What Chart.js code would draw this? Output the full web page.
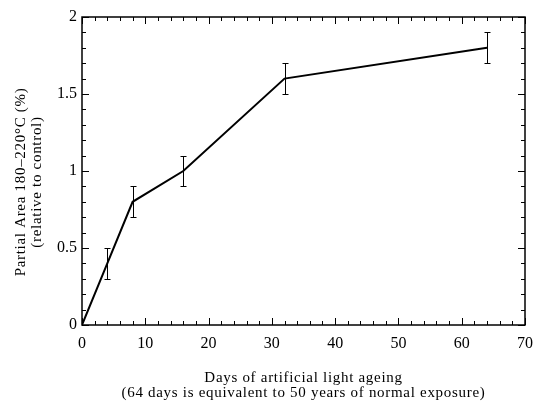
<!DOCTYPE html>
<html>
<head>
<meta charset="utf-8">
<script src="https://cdn.jsdelivr.net/npm/chart.js@4"></script>
<style>
  html, body { margin: 0; padding: 0; background: #fff; }
  #contenedor { width: 534px; height: 404px; }
</style>
</head>
<body>
<div id="contenedor"><canvas id="grafica" width="534" height="404"></canvas></div>
<script>
// === Datos de la gráfica ===
const dias = [0, 4, 8, 16, 32, 64];
const areaParcial = [0, 0.4, 0.8, 1.0, 1.6, 1.8];
const errorArea = [0, 0.1, 0.1, 0.1, 0.1, 0.1];

const tituloX = ['Days of artificial light ageing', '(64 days is equivalent to 50 years of normal exposure)'];
const tituloY = ['Partial Area 180\u2013220\u00B0C (%)', '(relative to control)'];

// === Constantes de estilo ===
const FUENTE = '"Liberation Serif", "DejaVu Serif", serif';
const LARGO_MAYOR = 7;
const LARGO_MENOR = 4;

// barras de error, marco con marcas hacia dentro y títulos
const pluginMarco = {
  id: 'marco',
  afterDatasetsDraw(chart) {
    const ctx = chart.ctx;
    const { left, right, top, bottom } = chart.chartArea;
    const x = chart.scales.x;
    const y = chart.scales.y;

    ctx.save();
    ctx.strokeStyle = '#000';
    ctx.lineWidth = 1;

    // barras de error
    dias.forEach((d, i) => {
      if (!errorArea[i]) return;
      const px = Math.round(x.getPixelForValue(d)) + 0.5;
      const yAlto = Math.round(y.getPixelForValue(areaParcial[i] + errorArea[i])) + 0.5;
      const yBajo = Math.round(y.getPixelForValue(areaParcial[i] - errorArea[i])) + 0.5;
      ctx.beginPath();
      ctx.moveTo(px, yAlto); ctx.lineTo(px, yBajo);
      ctx.moveTo(px - 3, yAlto); ctx.lineTo(px + 3, yAlto);
      ctx.moveTo(px - 3, yBajo); ctx.lineTo(px + 3, yBajo);
      ctx.stroke();
    });

    // marco
    ctx.lineWidth = 1.5;
    ctx.strokeRect(left, top, right - left, bottom - top);

    // marcas del eje x
    ctx.lineWidth = 1;
    ctx.beginPath();
    for (let v = 0; v <= 70; v += 2) {
      const px = Math.round(x.getPixelForValue(v)) + 0.5;
      const largo = v % 10 === 0 ? LARGO_MAYOR : LARGO_MENOR;
      ctx.moveTo(px, bottom); ctx.lineTo(px, bottom - largo);
      ctx.moveTo(px, top); ctx.lineTo(px, top + largo);
    }
    // marcas del eje y
    for (let k = 0; k <= 20; k++) {
      const py = Math.round(y.getPixelForValue(k / 10)) + 0.5;
      const largo = k % 5 === 0 ? LARGO_MAYOR : LARGO_MENOR;
      ctx.moveTo(left, py); ctx.lineTo(left + largo, py);
      ctx.moveTo(right, py); ctx.lineTo(right - largo, py);
    }
    ctx.stroke();

    // títulos de los ejes
    ctx.fillStyle = '#000';
    ctx.font = '15px ' + FUENTE;
    ctx.letterSpacing = '0.7px';
    ctx.textAlign = 'center';
    ctx.textBaseline = 'alphabetic';
    const centroX = (left + right) / 2;
    ctx.fillText(tituloX[0], centroX, 382);
    ctx.fillText(tituloX[1], centroX, 397);

    ctx.textBaseline = 'middle';
    ctx.save();
    ctx.translate(21, 182);
    ctx.rotate(-Math.PI / 2);
    ctx.fillText(tituloY[0], 0, 0);
    ctx.fillText(tituloY[1], 0, 16);
    ctx.restore();

    ctx.restore();
  }
};

new Chart(document.getElementById('grafica'), {
  type: 'line',
  data: {
    datasets: [{
      data: dias.map((d, i) => ({ x: d, y: areaParcial[i] })),
      borderColor: '#000',
      borderWidth: 2,
      pointRadius: 0,
      fill: false,
      tension: 0,
    }],
  },
  options: {
    responsive: false,
    animation: false,
    layout: { padding: { top: 17, right: 9, left: 0, bottom: 0 } },
    plugins: {
      legend: { display: false },
      tooltip: { enabled: false },
    },
    scales: {
      x: {
        type: 'linear',
        min: 0,
        max: 70,
        ticks: {
          stepSize: 10,
          color: '#000',
          font: { family: FUENTE, size: 16 },
          padding: 9,
          maxRotation: 0,
        },
        grid: { display: false, drawTicks: false },
        border: { display: false },
        afterFit(escala) {
          escala.height = 79;
          escala.paddingLeft = 0;
          escala.paddingRight = 0;
        },
      },
      y: {
        min: 0,
        max: 2,
        ticks: {
          stepSize: 0.5,
          color: '#000',
          font: { family: FUENTE, size: 16 },
          padding: 5,
          callback: v => String(v),
        },
        grid: { display: false, drawTicks: false },
        border: { display: false },
        afterFit(escala) {
          escala.width = 82;
          escala.paddingTop = 0;
          escala.paddingBottom = 0;
        },
      },
    },
  },
  plugins: [pluginMarco],
});
</script>
</body>
</html>
